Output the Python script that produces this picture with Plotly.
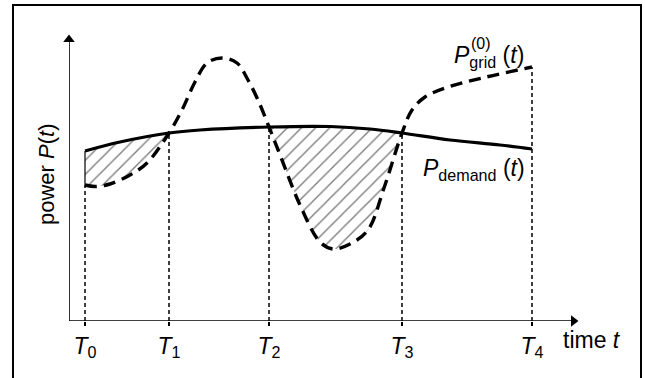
import plotly.graph_objects as go

# ---- data (arbitrary units) ----
T_names = ["T0", "T1", "T2", "T3", "T4"]
T_vals = [1.6, 10.0, 20.0, 33.3, 46.3]

demand_t = [1.6, 5.1, 10.0, 13.1, 20.0, 26.1, 30.1, 33.3, 38.1, 43.1, 46.3]
demand_p = [17.0, 17.9, 18.8, 19.1, 19.4, 19.45, 19.2, 18.8, 18.1, 17.6, 17.2]

grid_t = [1.6, 2.6, 4.1, 6.1, 7.8, 10.0, 11.3, 12.6, 13.8, 15.3, 16.8, 17.9, 18.9,
          20.0, 21.3, 23.1, 25.1, 26.4, 28.1, 29.9, 31.5, 33.3, 34.3, 35.6, 37.9,
          41.3, 46.3]
grid_p = [13.6, 13.45, 13.7, 14.6, 15.8, 18.8, 21.1, 23.9, 25.8, 26.3, 25.8, 24.1,
          22.1, 19.4, 16.1, 11.6, 7.9, 7.2, 7.7, 9.1, 13.3, 18.8, 21.1, 22.4, 23.4,
          24.3, 25.4]

hatched = [(0, 1), (2, 3)]  # hatched intervals (indices into T_vals)

X_MAX = 50.9
Y_MAX = 28.6
FONT = "Liberation Sans, Arial, sans-serif"

fig = go.Figure()


def seg(ts, ps, a, b):
    xs, ys = [], []
    for t, p in zip(ts, ps):
        if a - 1e-9 <= t <= b + 1e-9:
            xs.append(t)
            ys.append(p)
    return xs, ys


# hatched regions
for i, j in hatched:
    a, b = T_vals[i], T_vals[j]
    dx, dy = seg(demand_t, demand_p, a, b)
    gx, gy = seg(grid_t, grid_p, a, b)
    fig.add_trace(go.Scatter(x=dx, y=dy, mode="lines", line=dict(width=0, shape="spline"),
                             hoverinfo="skip", showlegend=False))
    fig.add_trace(go.Scatter(x=gx, y=gy, mode="lines", line=dict(width=0, shape="spline"),
                             fill="tonexty", fillcolor="white",
                             fillpattern=dict(shape="/", fgcolor="black", bgcolor="white",
                                              size=10, solidity=0.14),
                             hoverinfo="skip", showlegend=False))

# vertical dashed lines at T_k
for k, t in enumerate(T_vals):
    d = demand_p[demand_t.index(t)]
    g = grid_p[grid_t.index(t)]
    lo, hi = min(d, g), max(d, g)
    in_hatch = any(k in pair for pair in hatched) and abs(hi - lo) > 0.5
    top = lo if in_hatch else hi
    fig.add_trace(go.Scatter(x=[t, t], y=[0, top], mode="lines",
                             line=dict(color="black", width=1.5, dash="4px,3px"),
                             hoverinfo="skip", showlegend=False))
    if in_hatch:
        fig.add_trace(go.Scatter(x=[t, t], y=[lo, hi], mode="lines",
                                 line=dict(color="black", width=1.2),
                                 hoverinfo="skip", showlegend=False))

# curves
fig.add_trace(go.Scatter(x=demand_t, y=demand_p, mode="lines",
                         line=dict(color="black", width=3.2, shape="spline"),
                         hoverinfo="skip", showlegend=False))
fig.add_trace(go.Scatter(x=grid_t, y=grid_p, mode="lines",
                         line=dict(color="black", width=3.4, shape="spline", dash="12px,7px"),
                         hoverinfo="skip", showlegend=False))

# axes with arrow heads
fig.add_shape(type="line", xref="x", yref="y", x0=0, y0=0, x1=X_MAX - 0.5, y1=0,
              line=dict(color="black", width=1.6))
fig.add_shape(type="line", xref="x", yref="y", x0=0, y0=0, x1=0, y1=Y_MAX - 0.5,
              line=dict(color="black", width=1.6))
fig.add_trace(go.Scatter(x=[X_MAX - 0.45], y=[0], mode="markers",
                         marker=dict(symbol="triangle-right", size=10, color="black"),
                         hoverinfo="skip", showlegend=False, cliponaxis=False))
fig.add_trace(go.Scatter(x=[0], y=[Y_MAX - 0.45], mode="markers",
                         marker=dict(symbol="triangle-up", size=10, color="black"),
                         hoverinfo="skip", showlegend=False, cliponaxis=False))

tick_text = ["<i>T</i><sub>%s</sub>" % n[1:] for n in T_names]

# labels (positions given in page pixels, converted to paper coords)
PL, PR, PT, PB = 69, 578, 35, 321


def px(x):
    return (x - PL) / (PR - PL)


def py(y):
    return (PB - y) / (PB - PT)


fig.add_annotation(text="time <i>t</i>", x=px(592), y=py(340),
                   xref="paper", yref="paper", showarrow=False,
                   font=dict(size=23, family=FONT, color="black"),
                   xanchor="center", yanchor="middle")
fig.add_annotation(text="power <i>P</i>(<i>t</i>)", x=px(46), y=py(174),
                   xref="paper", yref="paper", showarrow=False, textangle=-90,
                   font=dict(size=22, family=FONT, color="black"),
                   xanchor="center", yanchor="middle")
fig.add_annotation(text="<i>P</i><sub>grid</sub> (<i>t</i>)", x=px(452),
                   y=py(57), xref="paper", yref="paper", showarrow=False,
                   font=dict(size=23, family=FONT, color="black"),
                   xanchor="left", yanchor="middle")
fig.add_annotation(text="(0)", x=px(481), y=py(43),
                   xref="paper", yref="paper", showarrow=False,
                   font=dict(size=16, family=FONT, color="black"),
                   xanchor="center", yanchor="middle")
fig.add_annotation(text="<i>P</i><sub>demand</sub> (<i>t</i>)", x=px(421),
                   y=py(170), xref="paper", yref="paper", showarrow=False,
                   font=dict(size=23, family=FONT, color="black"),
                   xanchor="left", yanchor="middle")

# frame
fig.add_shape(type="rect", xref="paper", yref="paper",
              x0=px(13), x1=px(641), y0=py(395), y1=py(5),
              line=dict(color="black", width=2), fillcolor="rgba(0,0,0,0)", layer="below")

fig.update_layout(
    width=645, height=378, autosize=False,
    margin=dict(l=PL, r=645 - PR, t=PT, b=378 - PB),
    paper_bgcolor="white", plot_bgcolor="white",
    font=dict(family=FONT, color="black"),
    xaxis=dict(range=[0, X_MAX], showgrid=False, zeroline=False, showline=False,
               tickvals=T_vals, ticktext=tick_text, ticks="outside", ticklen=4,
               tickwidth=1.5, tickcolor="black", tickfont=dict(size=23, family=FONT),
               fixedrange=True),
    yaxis=dict(range=[0, Y_MAX], showgrid=False, zeroline=False, showline=False,
               showticklabels=False, ticks="", fixedrange=True),
    showlegend=False,
)

fig.write_html("out.html",
               config={"displayModeBar": False},
               post_script="document.body.style.margin='0px';"
                           "document.body.style.overflow='hidden';")
